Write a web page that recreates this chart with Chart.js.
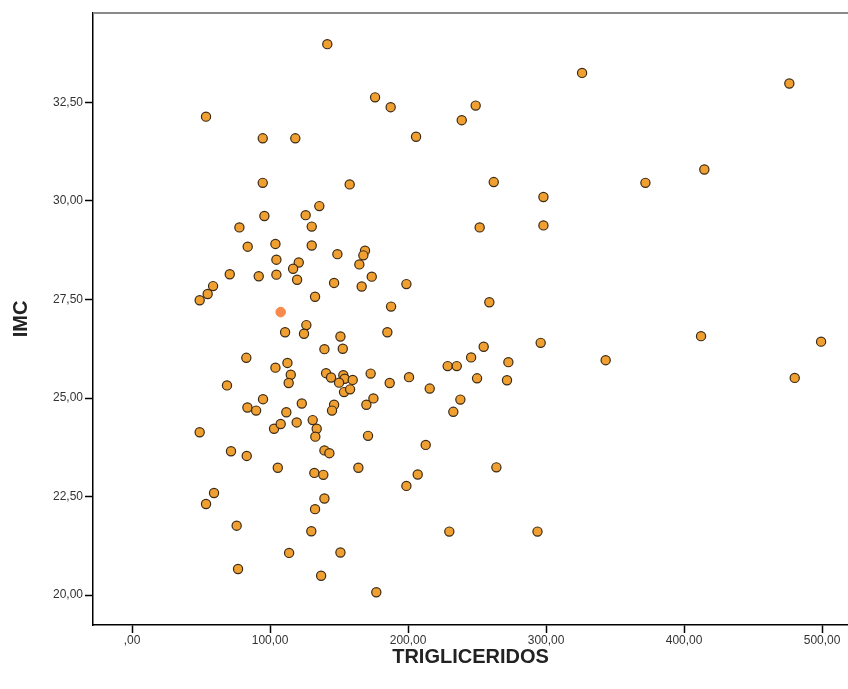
<!DOCTYPE html>
<html lang="es">
<head>
    <meta charset="UTF-8">
    <title>IMC vs TRIGLICERIDOS</title>
    <script src="https://cdn.jsdelivr.net/npm/chart.js"></script>
    <style>
        body { margin: 0; background: #fff; }
        #wrap { width: 848px; height: 689px; }
    </style>
</head>
<body>
    <div id="wrap"><canvas id="scatter" width="848" height="689"></canvas></div>

    <script>
        // values
        const trigliceridos = [
            141.5, 176.1, 187.4, 205.8, 53.6, 94.7, 118.3, 94.7, 157.7, 135.7,
            95.9, 125.8, 77.8, 130.2, 83.8, 103.9, 130.2, 148.8, 168.8, 167.6,
            104.6, 120.8, 116.7, 164.7, 70.8, 91.8, 104.6, 119.6, 173.7, 58.7,
            54.8, 49.0, 146.4, 166.4, 198.8, 132.6, 187.7, 110.9, 126.3, 124.6,
            151.0, 185.0, 139.4, 152.7, 82.8, 103.9, 112.6, 115.0, 113.5, 68.8,
            140.6, 144.2, 153.1, 154.1, 150.0, 159.9, 153.6, 158.0, 172.9, 186.7,
            200.7, 215.7, 94.9, 83.6, 89.9, 123.0, 146.4, 144.9, 169.8, 174.9,
            111.8, 49.0, 102.9, 107.7, 119.3, 130.9, 133.8, 132.8, 171.0, 212.8,
            71.7, 83.1, 139.4, 143.0, 105.6, 164.0, 132.1, 138.6, 207.0, 198.8,
            59.4, 53.6, 139.4, 132.6, 75.8, 129.9, 113.8, 151.0, 76.8, 137.0,
            177.0, 326.1, 476.3, 249.0, 238.9, 414.7, 372.0, 262.1, 298.1, 298.1,
            251.9, 258.9, 296.1, 412.3, 499.3, 343.2, 254.8, 245.7, 228.7, 235.3,
            272.7, 250.0, 271.7, 480.2, 237.9, 232.8, 264.0, 229.9, 293.8
        ];
        const imc = [
            33.98, 32.63, 32.38, 31.63, 32.14, 31.59, 31.59, 30.46, 30.42, 29.87,
            29.62, 29.64, 29.33, 29.35, 28.84, 28.91, 28.87, 28.65, 28.74, 28.62,
            28.51, 28.44, 28.28, 28.39, 28.14, 28.09, 28.13, 28.00, 28.08, 27.84,
            27.64, 27.48, 27.92, 27.83, 27.89, 27.57, 27.32, 26.67, 26.85, 26.63,
            26.56, 26.67, 26.24, 26.25, 26.02, 25.77, 25.89, 25.59, 25.38, 25.32,
            25.63, 25.52, 25.58, 25.49, 25.39, 25.46, 25.15, 25.22, 25.62, 25.38,
            25.53, 25.24, 24.97, 24.76, 24.68, 24.86, 24.83, 24.68, 24.83, 24.99,
            24.64, 24.13, 24.22, 24.34, 24.38, 24.44, 24.22, 24.02, 24.04, 23.81,
            23.65, 23.53, 23.67, 23.60, 23.23, 23.23, 23.10, 23.05, 23.06, 22.77,
            22.59, 22.31, 22.45, 22.18, 21.76, 21.62, 21.07, 21.08, 20.66, 20.49,
            20.07, 33.25, 32.98, 32.42, 32.05, 30.80, 30.46, 30.48, 30.10, 29.38,
            29.33, 27.43, 26.40, 26.57, 26.43, 25.96, 26.30, 26.03, 25.81, 25.81,
            25.91, 25.50, 25.45, 25.51, 24.96, 24.65, 23.24, 21.61, 21.61
        ];
        // the one lighter marker
        const selTrig = [107.7];
        const selImc = [27.18];

        const xTicks = [0, 100, 200, 300, 400, 500];
        const yTicks = [20, 22.5, 25, 27.5, 30, 32.5];

        // SPSS style numbers: 100,00 and ,00
        const fmt = v => v === 0 ? ',00' : v.toFixed(2).replace('.', ',');

        const topBorder = {
            id: 'topBorder',
            afterDraw(chart) {
                const { ctx, chartArea } = chart;
                ctx.save();
                ctx.strokeStyle = '#8a8a8a';
                ctx.lineWidth = 2;
                ctx.beginPath();
                ctx.moveTo(chartArea.left, chartArea.top);
                ctx.lineTo(chartArea.right, chartArea.top);
                ctx.stroke();
                ctx.restore();
            }
        };

        const tickFont = { family: "'Liberation Sans', Arial, sans-serif", size: 12 };
        const titleFont = { family: "'Liberation Sans', Arial, sans-serif", size: 20, weight: 'bold' };

        new Chart(document.getElementById('scatter'), {
            type: 'scatter',
            data: {
                datasets: [
                    {
                        data: trigliceridos.map((t, i) => ({ x: t, y: imc[i] })),
                        backgroundColor: '#F0A030',
                        borderColor: '#3b2a16',
                        borderWidth: 1.2,
                        pointRadius: 4.6,
                    },
                    {
                        data: selTrig.map((t, i) => ({ x: t, y: selImc[i] })),
                        backgroundColor: '#F78A4C',
                        borderColor: '#F78A4C',
                        borderWidth: 1,
                        pointRadius: 4.8,
                    },
                ],
            },
            options: {
                responsive: false,
                animation: false,
                layout: { autoPadding: false, padding: { top: 13, right: 0, left: 0, bottom: 0 } },
                plugins: {
                    legend: { display: false },
                    tooltip: { enabled: false },
                },
                scales: {
                    x: {
                        type: 'linear',
                        min: -28.3,
                        max: 518.8,
                        afterBuildTicks: s => { s.ticks = xTicks.map(v => ({ value: v })); },
                        afterFit: s => { s.height = 64; s.paddingLeft = 0; s.paddingRight = 0; },
                        ticks: { callback: fmt, color: '#333', font: tickFont, padding: 0, maxRotation: 0 },
                        grid: { drawOnChartArea: false, drawTicks: true, tickLength: 8, color: '#000', tickWidth: 1.5 },
                        border: { color: '#000', width: 1.5 },
                        title: { display: true, text: 'TRIGLICERIDOS', color: '#222', font: titleFont, padding: { top: 0, bottom: 20 } },
                    },
                    y: {
                        type: 'linear',
                        min: 19.24,
                        max: 34.77,
                        afterBuildTicks: s => { s.ticks = yTicks.map(v => ({ value: v })); },
                        afterFit: s => { s.width = 93; },
                        ticks: { callback: fmt, color: '#333', font: tickFont, padding: 2 },
                        grid: { drawOnChartArea: false, drawTicks: true, tickLength: 8, color: '#000', tickWidth: 1.5 },
                        border: { color: '#000', width: 1.5 },
                        title: { display: true, text: 'IMC', color: '#222', font: titleFont, padding: { top: 9, bottom: 0 } },
                    },
                },
            },
            plugins: [topBorder],
        });
    </script>
</body>
</html>
